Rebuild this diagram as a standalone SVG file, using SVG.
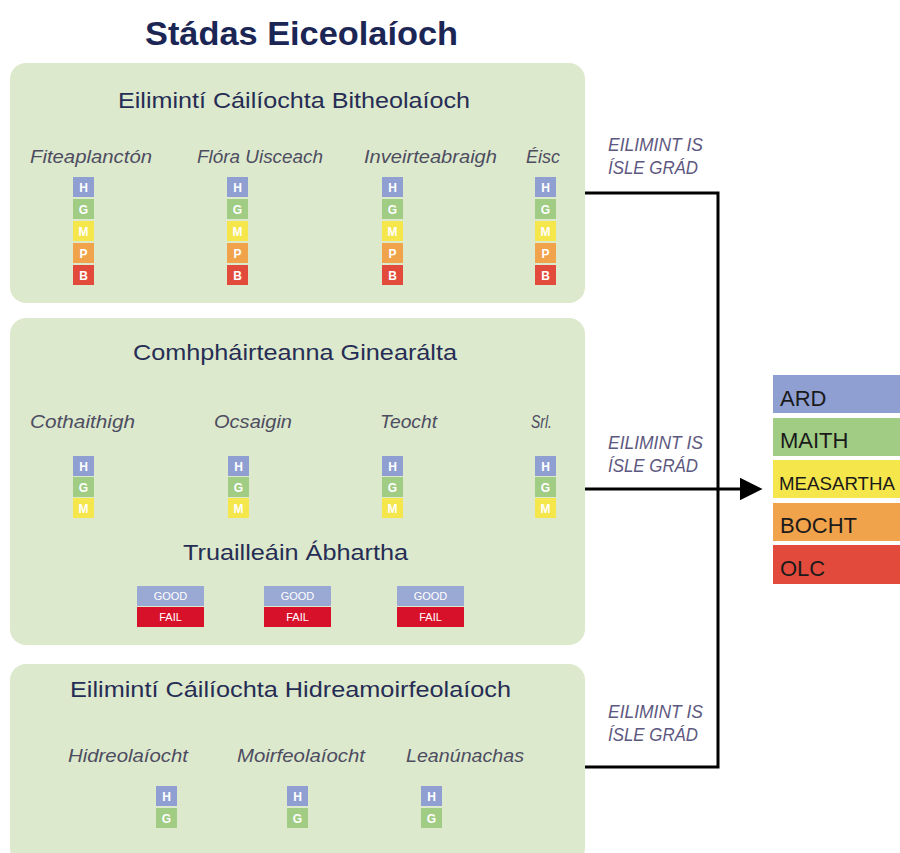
<svg xmlns="http://www.w3.org/2000/svg" width="900" height="853" viewBox="0 0 900 853">
<defs>
<style>
.panel{fill:#dde9cc}
.title{font-family:"Liberation Sans",Arial,sans-serif;font-weight:bold;font-size:34px;fill:#1b2655}
.head{font-family:"Liberation Sans",Arial,sans-serif;font-size:22px;fill:#262d55}
.col{font-family:"Liberation Sans",Arial,sans-serif;font-style:italic;font-size:19px;fill:#4d4d62}
.lab{font-family:"Liberation Sans",Arial,sans-serif;font-style:italic;font-size:19px;fill:#5d5880}
.sq{font-family:"Liberation Sans",Arial,sans-serif;font-weight:bold;font-size:12px;fill:#ffffff;text-anchor:middle}
.gf{font-family:"Liberation Sans",Arial,sans-serif;font-size:11px;fill:#ffffff;text-anchor:middle}
.leg{font-family:"Liberation Sans",Arial,sans-serif;font-size:22px;fill:#1a1a1a}
.H{fill:#909fd2}.G{fill:#a0cc84}.M{fill:#f5e64c}.P{fill:#f1a34c}.B{fill:#e24b3c}
.good{fill:#9aa8d4}.fail{fill:#d8112b}
.conn{stroke:#000;stroke-width:3;fill:none}
</style>
<g id="sq5">
<rect class="H" x="0" y="0" width="21" height="20"/><text class="sq" x="10.5" y="14.5">H</text>
<rect class="G" x="0" y="22" width="21" height="20"/><text class="sq" x="10.5" y="36.5">G</text>
<rect class="M" x="0" y="44" width="21" height="20"/><text class="sq" x="10.5" y="58.5">M</text>
<rect class="P" x="0" y="66" width="21" height="20"/><text class="sq" x="10.5" y="80.5">P</text>
<rect class="B" x="0" y="88" width="21" height="20"/><text class="sq" x="10.5" y="102.5">B</text>
</g>
<g id="sq3">
<rect class="H" x="0" y="0" width="21" height="20"/><text class="sq" x="10.5" y="14.5">H</text>
<rect class="G" x="0" y="21" width="21" height="20"/><text class="sq" x="10.5" y="35.5">G</text>
<rect class="M" x="0" y="42" width="21" height="20"/><text class="sq" x="10.5" y="56.5">M</text>
</g>
<g id="sq2">
<rect class="H" x="0" y="0" width="21" height="20"/><text class="sq" x="10.5" y="14.5">H</text>
<rect class="G" x="0" y="22" width="21" height="20"/><text class="sq" x="10.5" y="36.5">G</text>
</g>
<g id="gf">
<rect class="good" x="0" y="0" width="67" height="20"/><text class="gf" x="33.5" y="14">GOOD</text>
<rect class="fail" x="0" y="21" width="67" height="20"/><text class="gf" x="33.5" y="35">FAIL</text>
</g>
<marker id="arr" viewBox="0 0 10 10" refX="0" refY="5" markerWidth="8.5" markerHeight="7.5" markerUnits="strokeWidth" orient="auto">
<path d="M0,0 L10,5 L0,10 z" fill="#000"/>
</marker>
</defs>
<rect width="900" height="853" fill="#ffffff"/>
<text class="title" x="145" y="45" textLength="313" lengthAdjust="spacingAndGlyphs">Stádas Eiceolaíoch</text>

<g id="panel-bio">
<rect class="panel" x="10" y="63" width="575" height="240" rx="16"/>
<text class="head" x="118" y="108" textLength="352" lengthAdjust="spacingAndGlyphs">Eilimintí Cáilíochta Bitheolaíoch</text>
<text class="col" x="30" y="163" textLength="122" lengthAdjust="spacingAndGlyphs">Fiteaplanctón</text>
<text class="col" x="197" y="163" textLength="126" lengthAdjust="spacingAndGlyphs">Flóra Uisceach</text>
<text class="col" x="364" y="163" textLength="133" lengthAdjust="spacingAndGlyphs">Inveirteabraigh</text>
<text class="col" x="526" y="163" textLength="34" lengthAdjust="spacingAndGlyphs">Éisc</text>
<use href="#sq5" x="73" y="177"/>
<use href="#sq5" x="227" y="177"/>
<use href="#sq5" x="382" y="177"/>
<use href="#sq5" x="535" y="177"/>
</g>

<g id="panel-gen">
<rect class="panel" x="10" y="318" width="575" height="327" rx="16"/>
<text class="head" x="133" y="360" textLength="324" lengthAdjust="spacingAndGlyphs">Comhpháirteanna Ginearálta</text>
<text class="col" x="30" y="428" textLength="105" lengthAdjust="spacingAndGlyphs">Cothaithigh</text>
<text class="col" x="214" y="428" textLength="78" lengthAdjust="spacingAndGlyphs">Ocsaigin</text>
<text class="col" x="380" y="428" textLength="57" lengthAdjust="spacingAndGlyphs">Teocht</text>
<text class="col" x="531" y="428" textLength="21" lengthAdjust="spacingAndGlyphs">Srl.</text>
<use href="#sq3" x="73" y="456"/>
<use href="#sq3" x="228" y="456"/>
<use href="#sq3" x="382" y="456"/>
<use href="#sq3" x="535" y="456"/>
<text class="head" x="183" y="560" textLength="225" lengthAdjust="spacingAndGlyphs">Truailleáin Ábhartha</text>
<use href="#gf" x="137" y="586"/>
<use href="#gf" x="264" y="586"/>
<use href="#gf" x="397" y="586"/>
</g>

<g id="panel-hydro">
<rect class="panel" x="10" y="664" width="575" height="200" rx="16"/>
<text class="head" x="70" y="697" textLength="441" lengthAdjust="spacingAndGlyphs">Eilimintí Cáilíochta Hidreamoirfeolaíoch</text>
<text class="col" x="68" y="762" textLength="120" lengthAdjust="spacingAndGlyphs">Hidreolaíocht</text>
<text class="col" x="237" y="762" textLength="128" lengthAdjust="spacingAndGlyphs">Moirfeolaíocht</text>
<text class="col" x="406" y="762" textLength="118" lengthAdjust="spacingAndGlyphs">Leanúnachas</text>
<use href="#sq2" x="156" y="786"/>
<use href="#sq2" x="287" y="786"/>
<use href="#sq2" x="421" y="786"/>
</g>

<g id="connectors">
<path class="conn" d="M585,193 H718 V767 H585"/>
<path class="conn" d="M585,489 H740" marker-end="url(#arr)"/>
<text class="lab" x="608" y="151" textLength="95" lengthAdjust="spacingAndGlyphs">EILIMINT IS</text>
<text class="lab" x="608" y="174" textLength="90" lengthAdjust="spacingAndGlyphs">ÍSLE GRÁD</text>
<text class="lab" x="608" y="449" textLength="95" lengthAdjust="spacingAndGlyphs">EILIMINT IS</text>
<text class="lab" x="608" y="472" textLength="90" lengthAdjust="spacingAndGlyphs">ÍSLE GRÁD</text>
<text class="lab" x="608" y="718" textLength="95" lengthAdjust="spacingAndGlyphs">EILIMINT IS</text>
<text class="lab" x="608" y="741" textLength="90" lengthAdjust="spacingAndGlyphs">ÍSLE GRÁD</text>
</g>

<g id="legend">
<rect class="H" x="773" y="375" width="127" height="38"/>
<text class="leg" x="780" y="406">ARD</text>
<rect class="G" x="773" y="418" width="127" height="38"/>
<text class="leg" x="780" y="448">MAITH</text>
<rect class="M" x="773" y="460" width="127" height="38"/>
<text class="leg" x="779" y="490" style="font-size:18px" textLength="116" lengthAdjust="spacingAndGlyphs">MEASARTHA</text>
<rect class="P" x="773" y="503" width="127" height="38"/>
<text class="leg" x="780" y="533">BOCHT</text>
<rect class="B" x="773" y="545" width="127" height="39"/>
<text class="leg" x="780" y="576">OLC</text>
</g>
</svg>
